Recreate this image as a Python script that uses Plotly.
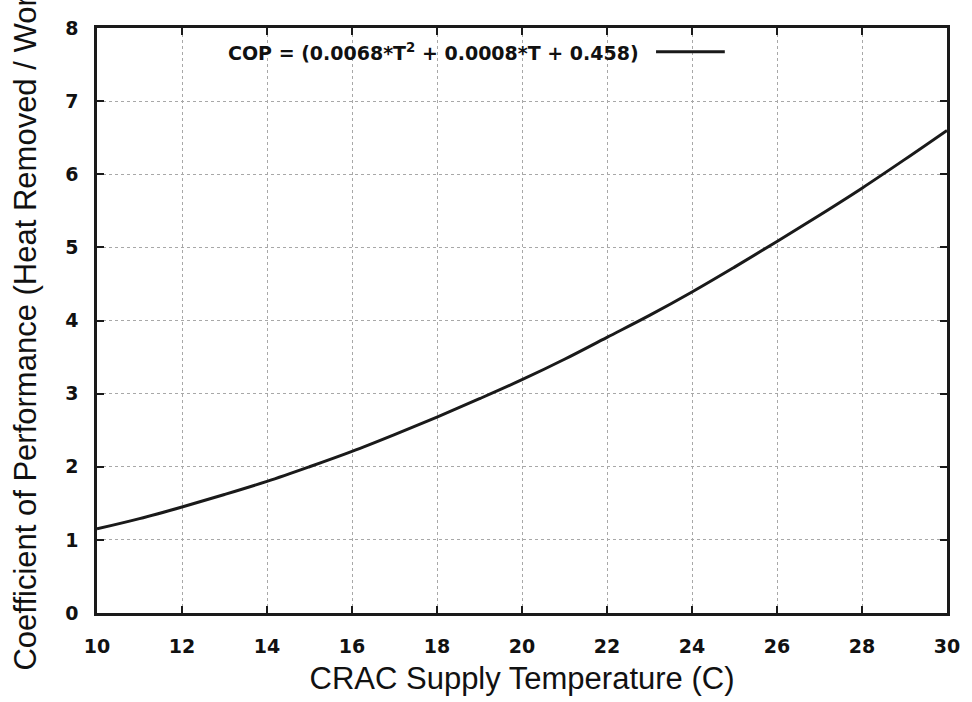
import plotly.graph_objects as go

# Values (CRAC supply temperature in C -> COP)
temperature_c = [10, 11, 12, 13, 14, 15, 16, 17, 18, 19, 20,
                 21, 22, 23, 24, 25, 26, 27, 28, 29, 30]
cop_values = [1.15, 1.29, 1.45, 1.62, 1.80, 2.00, 2.21, 2.44, 2.68, 2.93, 3.19,
              3.47, 3.77, 4.07, 4.39, 4.73, 5.08, 5.44, 5.81, 6.20, 6.60]

x_ticks = [10, 12, 14, 16, 18, 20, 22, 24, 26, 28, 30]
y_ticks = [0, 1, 2, 3, 4, 5, 6, 7, 8]

legend_label = "COP = (0.0068*T<sup>2</sup> + 0.0008*T + 0.458)"
x_title = "CRAC Supply Temperature (C)"
y_title = "Coefficient of Performance (Heat Removed / Work)"

tick_font = dict(family="DejaVu Sans", size=19, color="#111", weight="bold")
title_font = dict(family="Liberation Sans, Arial", size=31, color="#111")

fig = go.Figure()
fig.add_trace(go.Scatter(
    x=temperature_c, y=cop_values, mode="lines", line_shape="spline",
    line=dict(color="#1a1a1a", width=3), name=legend_label, showlegend=False,
))

axis_common = dict(
    showline=True, linecolor="#1a1a1a", linewidth=2.5, mirror="ticks",
    ticks="inside", ticklen=7, tickwidth=2, tickcolor="#1a1a1a",
    showgrid=True, gridcolor="#a8a8a8", gridwidth=1, griddash="3px,3px",
    zeroline=False, tickfont=tick_font,
)

fig.update_xaxes(range=[10, 30], tickvals=x_ticks, ticklabelstandoff=14,
                 title=dict(text=x_title, font=title_font, standoff=12),
                 **axis_common)
fig.update_yaxes(range=[0, 8], tickvals=y_ticks, ticklabelstandoff=12,
                 title=dict(text=y_title, font=title_font, standoff=20),
                 **axis_common)

# gnuplot-style key: text on the left, line sample on the right
fig.add_annotation(
    x=0.640, y=0.959, xref="paper", yref="paper", xanchor="right", yanchor="middle",
    text=legend_label, showarrow=False,
    font=dict(family="DejaVu Sans", size=19, color="#111", weight="bold"),
)
fig.add_shape(type="line", xref="paper", yref="paper",
              x0=0.6577, x1=0.7386, y0=0.9594, y1=0.9594,
              line=dict(color="#1a1a1a", width=3))

fig.update_layout(
    width=972, height=702,
    margin=dict(l=97, r=22, t=28, b=83),
    paper_bgcolor="white", plot_bgcolor="white",
)

fig.write_html("out.html")
